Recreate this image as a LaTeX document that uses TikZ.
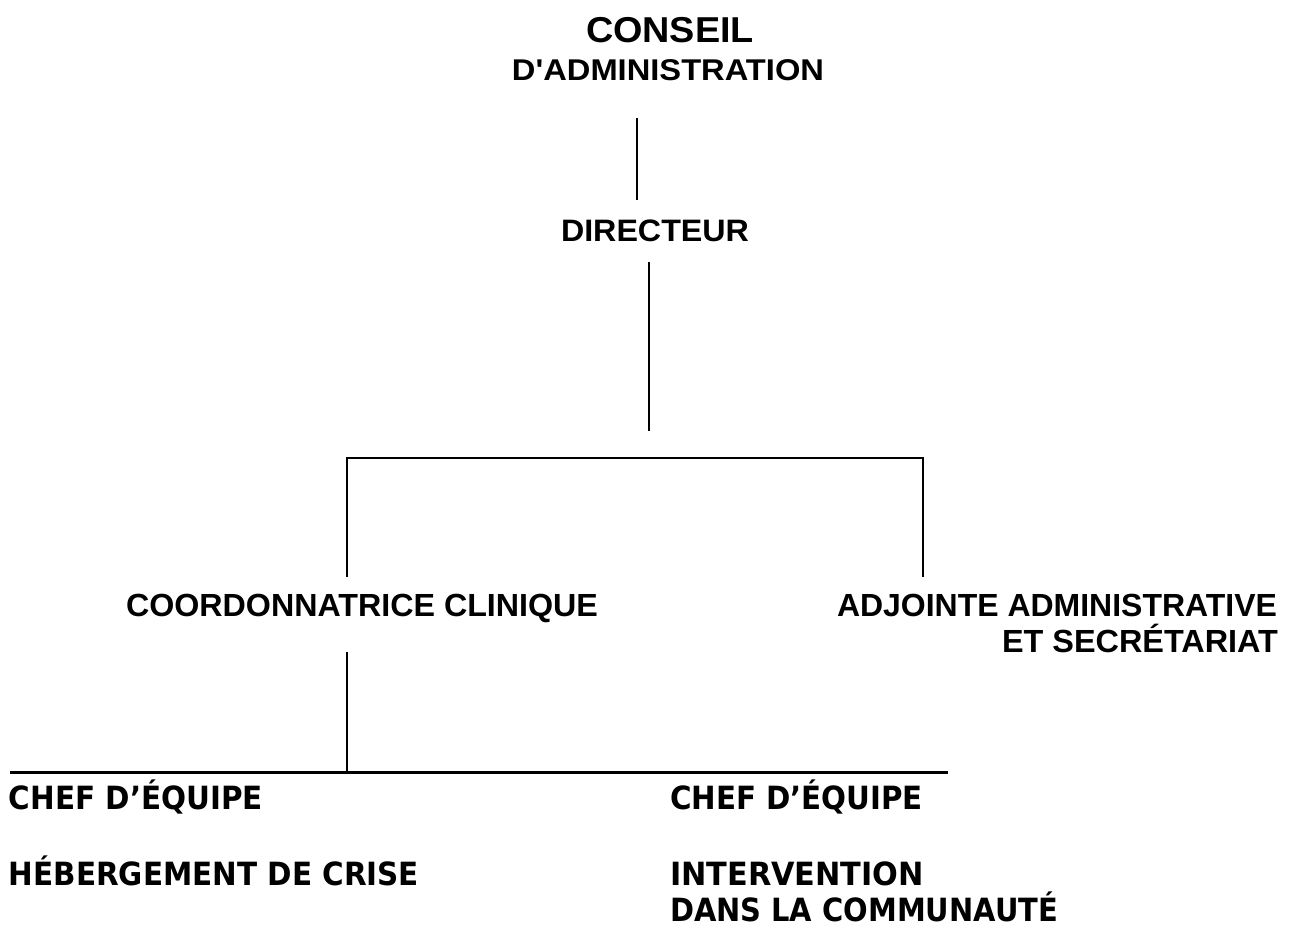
\documentclass[tikz,border=0pt]{standalone}
\usepackage{fontspec}
\usepackage{graphicx}
\setmainfont{Liberation Sans}
\newfontfamily\arialplain{Liberation Sans}[Ligatures=TeXOff]
\newfontfamily\tahfont{DejaVu Sans}
\newcommand\fw[2]{\resizebox{#1pt}{\height}{#2}}
\begin{document}
\begin{tikzpicture}[x=1pt,y=-1pt,
  lab/.style={inner sep=0pt, outer sep=0pt, font=\bfseries\fontsize{#1}{#1}\selectfont},
  tah/.style={inner sep=0pt, outer sep=0pt, font=\tahfont\bfseries\fontsize{#1}{#1}\selectfont},
  conn/.style={line width=2pt, line cap=butt},
  under/.style={line width=3pt}]
\useasboundingbox (0,0) rectangle (1296,929);
% texts
\node[lab=36, anchor=base] (conseil) at (670,42) {\fw{168}{CONSEIL}};
\node[lab=30, anchor=base] (admin) at (668,80) {\fw{312}{\arialplain\bfseries D'ADMINISTRATION}};
\node[lab=31, anchor=base] (dir) at (655,241) {\fw{188}{DIRECTEUR}};
\node[lab=32, anchor=base west] (coord) at (126,616) {\fw{472}{COORDONNATRICE CLINIQUE}};
\node[lab=32, anchor=base east] (adj) at (1277,616) {\fw{440}{ADJOINTE ADMINISTRATIVE}};
\node[lab=32, anchor=base east] (secr) at (1278,652) {\fw{276}{ET SECRÉTARIAT}};
\node[tah=32, anchor=base west] (chefl) at (9,809) {\fw{254}{CHEF D’ÉQUIPE}};
\node[tah=32, anchor=base west] (heb) at (9,885) {\fw{410}{HÉBERGEMENT DE CRISE}};
\node[tah=32, anchor=base west] (chefr) at (670,809) {\fw{253}{CHEF D’ÉQUIPE}};
\node[tah=32, anchor=base west] (interv) at (670,885) {\fw{254}{INTERVENTION}};
\node[tah=32, anchor=base west] (dans) at (670,921) {\fw{388}{DANS LA COMMUNAUTÉ}};
% connector coordinates
\coordinate (c1a) at (636.5,118);
\coordinate (c1b) at (636.5,200);
\coordinate (d1a) at (648.5,262);
\coordinate (d1b) at (648.5,431);
\coordinate (hl) at (346.5,458);
\coordinate (hr) at (922.5,458);
\coordinate (vl) at (346.5,577);
\coordinate (vr) at (922.5,577);
\coordinate (cva) at (346.5,652);
\coordinate (cvb) at (346.5,772);
\coordinate (ul) at (10,772);
\coordinate (ur) at (948,772);
% connectors
\draw[conn] (c1a) -- (c1b);
\draw[conn] (d1a) -- (d1b);
\draw[conn] (vl) -- (hl) -- (hr) -- (vr);
\draw[conn] (cva) -- (cvb);
\draw[under] (ul) -- (ur);
\end{tikzpicture}
\end{document}
